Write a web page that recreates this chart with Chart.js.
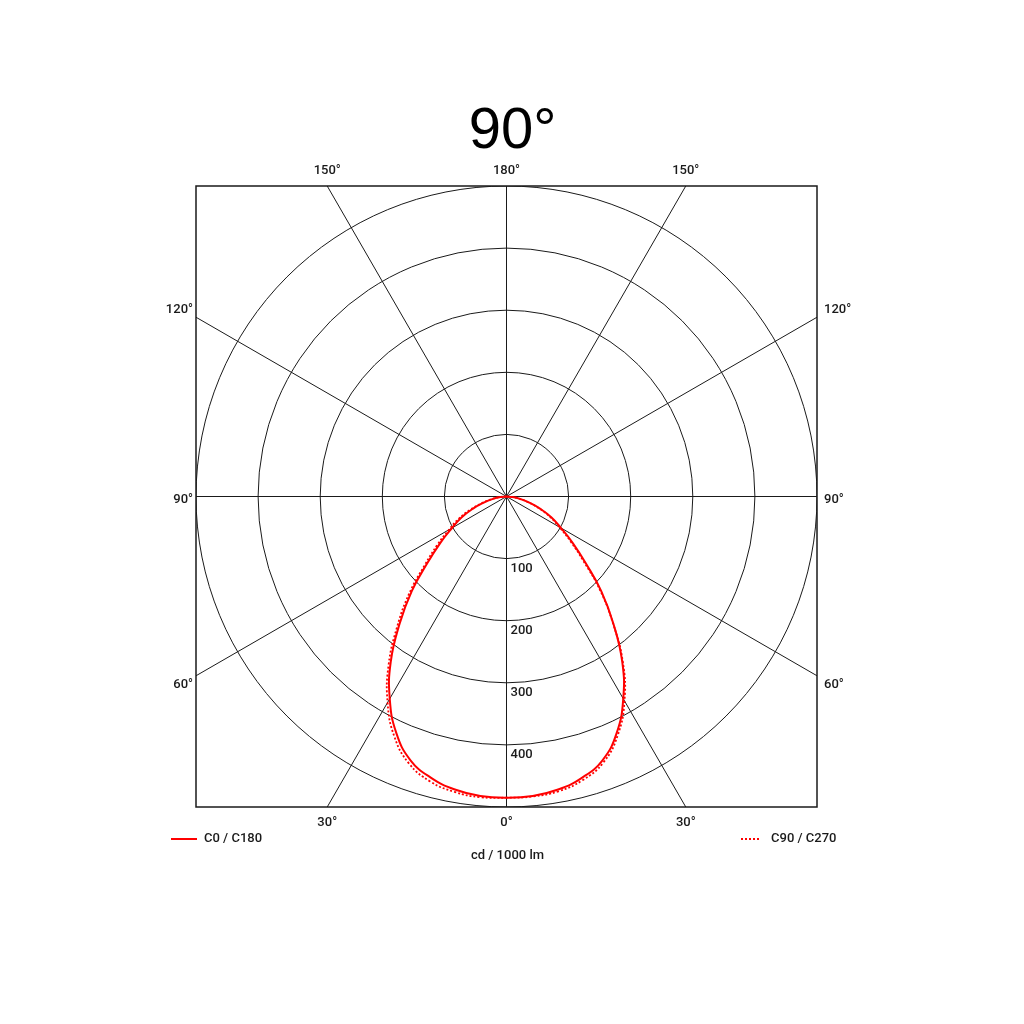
<!DOCTYPE html>
<html>
<head>
<meta charset="utf-8">
<script src="https://cdn.jsdelivr.net/npm/chart.js@4/dist/chart.umd.min.js"></script>
<style>
  html, body { margin: 0; padding: 0; background: #ffffff; }
  #wrap { width: 1024px; height: 1024px; }
</style>
</head>
<body>
<div id="wrap"><canvas id="c" width="1024" height="1024"></canvas></div>
<script>
// ---- data (cd / 1000 lm) ----
const gammaAngles = [0, 5, 10, 15, 20, 25, 30, 35, 40, 45, 50, 55, 60, 65, 70, 75, 80, 85, 90];
const c0Values    = [485, 484, 479, 469, 452, 420, 376, 325, 268, 216, 166, 130, 101, 80, 58, 38, 22, 9, 0];
const c180Values  = [485, 484, 479, 469, 452, 420, 376, 325, 268, 216, 166, 130, 101, 80, 58, 38, 22, 9, 0];
const c90Values   = [485, 485, 482, 473, 456, 424, 380, 327, 267, 213, 162, 126, 98, 77, 56, 37, 21, 9, 0];
const c270Values  = [485, 486, 483, 475, 458, 427, 383, 331, 274, 222, 172, 136, 107, 85, 62, 41, 24, 10, 0];

const ringValues  = [100, 200, 300, 400, 500];
const ringLabels  = ['100', '200', '300', '400'];
const spokeAngles = [0, 30, 60, 90, 120, 150, 180];
const topLabels    = ['150°', '180°', '150°'];
const sideLabels   = ['120°', '90°', '60°'];
const bottomLabels = ['30°', '0°', '30°'];
const titleText  = '90°';
const unitText   = 'cd / 1000 lm';
const seriesNames = ['C0 / C180', 'C90 / C270'];
const maxValue = 500;

// polar -> cartesian (gamma 0 points down, left half uses negative x)
function curve(leftVals, rightVals) {
  const pts = [];
  for (let i = gammaAngles.length - 1; i >= 0; i--) {
    const g = gammaAngles[i] * Math.PI / 180;
    pts.push({ x: -leftVals[i] * Math.sin(g), y: -leftVals[i] * Math.cos(g) });
  }
  for (let i = 1; i < gammaAngles.length; i++) {
    const g = gammaAngles[i] * Math.PI / 180;
    pts.push({ x: rightVals[i] * Math.sin(g), y: -rightVals[i] * Math.cos(g) });
  }
  return pts;
}

const RED = '#ff0000';
const INK = '#1a1a1a';
const LABEL_FONT = '500 13px Roboto, "DejaVu Sans Condensed", sans-serif';

const polarGrid = {
  id: 'polarGrid',
  beforeDatasetsDraw(chart) {
    const { ctx, chartArea: a, scales: { x, y } } = chart;
    const cx = x.getPixelForValue(0), cy = y.getPixelForValue(0);
    const pxPer = (x.getPixelForValue(maxValue) - cx) / maxValue;
    ctx.save();
    ctx.beginPath();
    ctx.rect(a.left, a.top, a.right - a.left, a.bottom - a.top);
    ctx.clip();
    ctx.strokeStyle = INK;
    ctx.lineWidth = 1;
    ringValues.forEach(v => {
      ctx.beginPath();
      ctx.arc(cx, cy, v * pxPer, 0, Math.PI * 2);
      ctx.stroke();
    });
    spokeAngles.forEach(s => {
      const g = s * Math.PI / 180;
      [-1, 1].forEach(side => {
        const dx = side * Math.sin(g), dy = Math.cos(g);
        ctx.beginPath();
        ctx.moveTo(cx, cy);
        ctx.lineTo(cx + dx * 2000, cy + dy * 2000);
        ctx.stroke();
      });
    });
    ctx.restore();
    ctx.save();
    ctx.strokeStyle = INK;
    ctx.lineWidth = 1.5;
    ctx.strokeRect(a.left, a.top, a.right - a.left, a.bottom - a.top);
    ctx.restore();
  },
  afterDatasetsDraw(chart) {
    const { ctx, chartArea: a, scales: { x, y } } = chart;
    const cx = x.getPixelForValue(0), cy = y.getPixelForValue(0);
    const t30 = Math.tan(30 * Math.PI / 180);
    ctx.save();
    ctx.fillStyle = INK;
    ctx.font = LABEL_FONT;
    // ring labels
    ctx.textAlign = 'left';
    ctx.textBaseline = 'middle';
    ringLabels.forEach((lbl, i) => {
      ctx.fillText(lbl, cx + 4, y.getPixelForValue(-ringValues[i]) + 10);
    });
    // top labels
    const halfW = (a.bottom - a.top) / 2;
    ctx.textAlign = 'center';
    const topXs = [cx - halfW * t30, cx, cx + halfW * t30];
    topLabels.forEach((l, i) => ctx.fillText(l, topXs[i], a.top - 15));
    bottomLabels.forEach((l, i) => ctx.fillText(l, topXs[i], a.bottom + 16));
    // side labels
    const sideYs = [cy - halfW * t30, cy, cy + halfW * t30];
    const baselines = ['bottom', 'middle', 'top'];
    const offs = [-1, 3, 2];
    sideLabels.forEach((l, i) => {
      ctx.textBaseline = baselines[i];
      ctx.textAlign = 'right';
      ctx.fillText(l, a.left - 3, sideYs[i] + offs[i]);
      ctx.textAlign = 'left';
      ctx.fillText(l, a.right + 7, sideYs[i] + offs[i]);
    });
    // unit
    ctx.textAlign = 'center';
    ctx.textBaseline = 'middle';
    ctx.fillText(unitText, cx + 1, a.bottom + 49);
    // legend
    const ly = a.bottom + 32;
    ctx.strokeStyle = RED;
    ctx.lineWidth = 2;
    ctx.beginPath(); ctx.moveTo(171, ly); ctx.lineTo(197, ly); ctx.stroke();
    ctx.setLineDash([2, 2]);
    ctx.beginPath(); ctx.moveTo(741, ly); ctx.lineTo(761, ly); ctx.stroke();
    ctx.setLineDash([]);
    ctx.textAlign = 'left';
    ctx.fillText(seriesNames[0], 204, ly);
    ctx.fillText(seriesNames[1], 771, ly);
    // title
    ctx.fillStyle = '#000';
    ctx.font = '58px "Liberation Sans", Arial, sans-serif';
    ctx.textAlign = 'center';
    ctx.textBaseline = 'alphabetic';
    ctx.fillText(titleText, cx + 6, 148);
    ctx.restore();
  }
};

new Chart(document.getElementById('c'), {
  type: 'scatter',
  data: {
    datasets: [
      {
        label: seriesNames[0],
        data: curve(c180Values, c0Values),
        showLine: true,
        borderColor: RED,
        borderWidth: 2,
        pointRadius: 0,
        tension: 0.45,
        fill: false
      },
      {
        label: seriesNames[1],
        data: curve(c270Values, c90Values),
        showLine: true,
        borderColor: RED,
        borderWidth: 1.8,
        borderDash: [2, 2],
        pointRadius: 0,
        tension: 0.45,
        fill: false
      }
    ]
  },
  options: {
    responsive: false,
    animation: false,
    devicePixelRatio: 1,
    layout: { padding: { left: 196, top: 186, right: 207, bottom: 217 } },
    scales: {
      x: { type: 'linear', min: -maxValue, max: maxValue, display: false },
      y: { type: 'linear', min: -maxValue, max: maxValue, display: false }
    },
    plugins: { legend: { display: false }, tooltip: { enabled: false }, title: { display: false } }
  },
  plugins: [polarGrid]
});
</script>
</body>
</html>
